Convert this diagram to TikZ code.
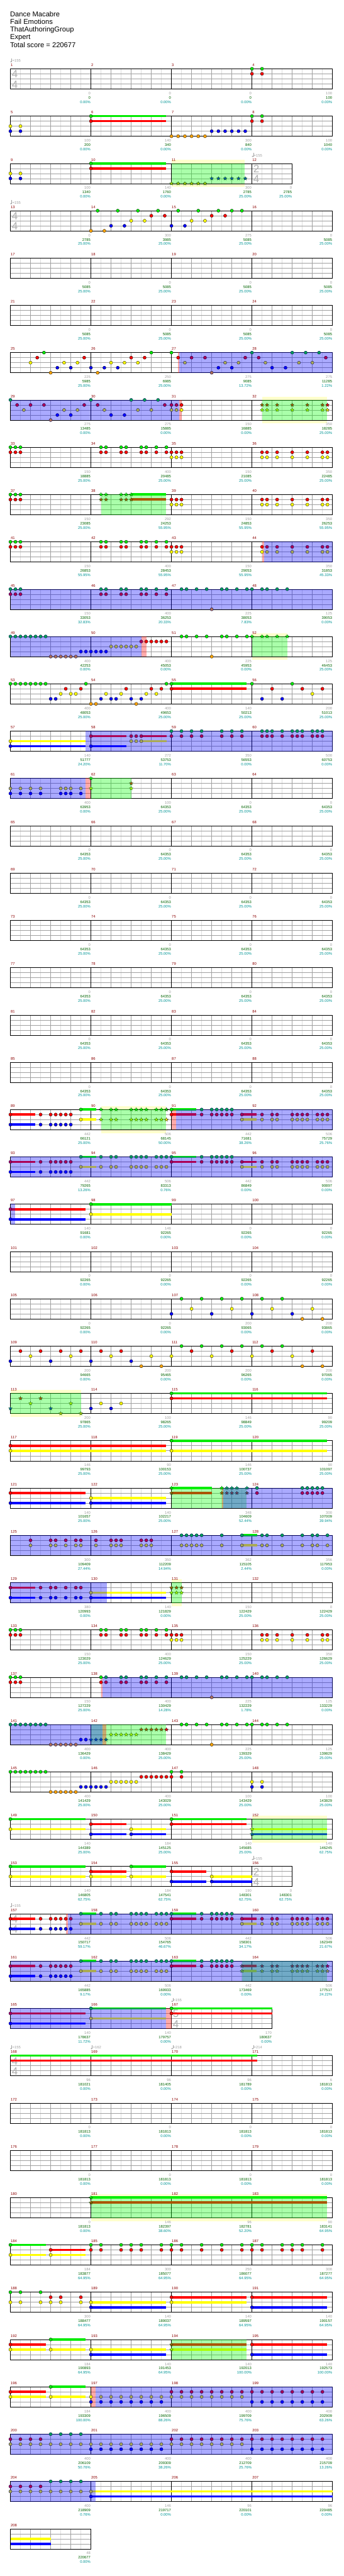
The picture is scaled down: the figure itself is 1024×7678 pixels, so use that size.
\documentclass[tikz,border=0pt]{standalone}
\usepackage{fontspec}
\setmainfont{Liberation Sans}
\usetikzlibrary{shapes.geometric}
\definecolor{cg}{RGB}{0,235,0}
\definecolor{cr}{RGB}{255,0,0}
\definecolor{cy}{RGB}{255,255,0}
\definecolor{cb}{RGB}{0,0,255}
\definecolor{co}{RGB}{255,165,0}
\definecolor{ovg}{RGB}{0,255,0}
\definecolor{ovb}{RGB}{0,0,255}
\definecolor{ovp}{RGB}{255,0,0}
\definecolor{ybnd}{RGB}{255,255,204}
\definecolor{l8}{RGB}{222,222,222}
\definecolor{lb}{RGB}{160,160,160}
\definecolor{cnum}{RGB}{140,0,0}
\definecolor{cgray}{RGB}{160,160,160}
\definecolor{cgrn}{RGB}{0,100,0}
\definecolor{cteal}{RGB}{0,150,150}
\definecolor{tsc}{RGB}{175,175,175}
\newcount\passn
\newif\ifinr
\tikzset{
 mnum/.style={anchor=base west,inner sep=0pt,text=cnum,font=\fontsize{11}{13}\selectfont},
 tgr/.style={anchor=base east,inner sep=0pt,text=cgray,font=\fontsize{11}{13}\selectfont},
 tgn/.style={anchor=base east,inner sep=0pt,text=cgrn,font=\fontsize{11}{13}\selectfont},
 ttl/.style={anchor=base east,inner sep=0pt,text=cteal,font=\fontsize{11}{13}\selectfont},
 tmp/.style={anchor=base west,inner sep=0pt,text=cgray,font=\fontsize{11}{13}\selectfont},
 tsg/.style={anchor=base west,inner sep=0pt,text=tsc,font=\fontsize{32}{34}\selectfont},
 head/.style={anchor=base west,inner sep=0pt,text=black,font=\fontsize{21}{25}\selectfont},
 stn/.style={star,star points=5,star point ratio=2.3,minimum size=11.5pt,inner sep=0pt,line width=.5pt},
 ln8/.style={draw=l8,line width=1pt},
 lnb/.style={draw=lb,line width=1pt},
 mline/.style={draw=black,line width=1pt}
}
\newcommand\chk[3]{\inrfalse\ifdim #1pt>\dimexpr #2pt-0.02pt\relax\ifdim #1pt<\dimexpr #3pt+0.02pt\relax\inrtrue\fi\fi}
\newcommand\mixc[2]{% row, beat : sets colours nc (fill) and nd (outline)
 \ifcsname gA#1\endcsname\chk{#2}{\csname gA#1\endcsname}{\csname gZ#1\endcsname}%
  \ifinr\colorlet{nc}{nc!66.7!ovg}\colorlet{nd}{nd!66.7!ovg}\fi\fi
 \ifcsname bA#1\endcsname\chk{#2}{\csname bA#1\endcsname}{\csname bZ#1\endcsname}%
  \ifinr\colorlet{nc}{nc!66.7!ovb}\colorlet{nd}{nd!66.7!ovb}\fi\fi}
\newcommand\gridrow[2]{\ifnum\passn=2\relax
 \pgfmathsetmacro\T{205+141*#1}\pgfmathsetmacro\Xe{31+60*#2}%
 \pgfmathtruncatemacro\nh{2*#2-1}\pgfmathtruncatemacro\nb{#2-1}%
 \fill[white] (31,\T) rectangle (\Xe,\T+60);
 \foreach \i in {1,3,...,\nh} \draw[ln8] ({31+30*\i},\T) -- ++(0,60);
 \foreach \k in {15,30,45} \draw[lnb] (31,\T+\k) -- (\Xe,\T+\k);
 \foreach \i in {1,...,\nb} \draw[lnb] ({31+60*\i},\T) -- ++(0,60);
 \fi}
\newcommand\gborder[2]{\ifnum\passn=2\relax\pgfmathsetmacro\T{205+141*#1}%
 \draw[black,line width=1pt] (31,\T) rectangle ({31+60*#2},\T+60);\fi}
\newcommand\meas[7]{\pgfmathsetmacro\T{205+141*#1}%
 \ifnum\passn=2\relax\ifdim #2pt>0pt \draw[mline] ({31+60*#2},\T) -- ++(0,60);\fi\fi
 \ifnum\passn=4\relax
 \node[mnum] at ({31+60*#2+1},\T-7) {#4};
 \node[tgr] at ({31+60*#3-1},\T+77) {#5};
 \node[tgn] at ({31+60*#3-1},\T+90) {#6};
 \node[ttl] at ({31+60*#3-1},\T+103) {#7\%};\fi}
\newcommand\rwa[4]{\ifnum\passn=2\relax\gridrow{#1}{#2}\fi
 \ifnum\passn=2\relax\rwaloop{#1}{#3}{#4}\gborder{#1}{#2}\fi
 \ifnum\passn=4\relax\rwaloop{#1}{#3}{#4}\fi}
\newcommand\rwaloop[3]{\foreach \vg/\vc/\vp [count=\i from 0] in {#3}{\pgfmathtruncatemacro\ms{4*\i}\pgfmathtruncatemacro\me{4*\i+4}\pgfmathtruncatemacro\mn{#2+\i}\meas{#1}{\ms}{\me}{\mn}{\vg}{\vc}{\vp}}}
\newcommand\rw[4]{\ifnum\passn=2\relax\gridrow{#1}{#2}\fi
 \ifnum\passn=2\relax\rwloop{#1}{#3}{#4}\gborder{#1}{#2}\fi
 \ifnum\passn=4\relax\rwloop{#1}{#3}{#4}\fi}
\newcommand\rwloop[3]{\foreach \vs/\ve/\vg/\vc/\vp [count=\i from 0] in {#3}{\pgfmathtruncatemacro\mn{#2+\i}\meas{#1}{\vs}{\ve}{\mn}{\vg}{\vc}{\vp}}}
\newcommand\nte[4]{\ifnum\passn=8\relax\pgfmathsetmacro\yy{205+141*#1+15*#2}\edef\lst{#4}%
 \foreach \b in \lst {\colorlet{nc}{#3}\colorlet{nd}{black}\mixc{#1}{\b}%
  \fill[fill=nc,draw=nd,line width=.6pt] ({31+60*\b},\yy) circle[radius=4.8pt];}\fi}
\newcommand\stz[4]{\ifnum\passn=8\relax\pgfmathsetmacro\yy{205+141*#1+15*#2}\edef\lst{#4}%
 \foreach \b in \lst {\colorlet{nc}{#3}\colorlet{nd}{black}\mixc{#1}{\b}%
  \node[stn,fill=nc,draw=nd] at ({31+60*\b},\yy) {};}\fi}
\newcommand\susb[5]{\ifnum\passn=3\relax\pgfmathsetmacro\yy{205+141*#1+15*#2}%
 \fill[#3] ({31+60*#4},\yy-3.5) rectangle ({31+60*#5},\yy+3.5);\fi}
\newcommand\ovl[4]{\pgfmathsetmacro\T{205+141*#1}%
 \fill[#2,opacity=0.333] ({31+60*#3},\T-0.5) rectangle ({31+60*#4},\T+60.5);}
\newcommand\ovG[3]{\ifnum\passn=0\relax\expandafter\xdef\csname gA#1\endcsname{#2}\expandafter\xdef\csname gZ#1\endcsname{#3}\fi
 \ifnum\passn=5\relax\ovl{#1}{ovg}{#2}{#3}\fi}
\newcommand\ovB[3]{\ifnum\passn=0\relax\expandafter\xdef\csname bA#1\endcsname{#2}\expandafter\xdef\csname bZ#1\endcsname{#3}\fi
 \ifnum\passn=6\relax\ovl{#1}{ovb}{#2}{#3}\fi}
\newcommand\ovP[3]{\ifnum\passn=7\relax\ovl{#1}{ovp}{#2}{#3}\fi}
\newcommand\ybd[3]{\ifnum\passn=1\relax\pgfmathsetmacro\T{205+141*#1}%
 \fill[ybnd] ({31+60*#2},\T-10) rectangle ({31+60*#3},\T+70);\fi}
\newcommand\qG[2]{\nte{#1}{0}{cg}{#2}}
\newcommand\qR[2]{\nte{#1}{1}{cr}{#2}}
\newcommand\qY[2]{\nte{#1}{2}{cy}{#2}}
\newcommand\qB[2]{\nte{#1}{3}{cb}{#2}}
\newcommand\qO[2]{\nte{#1}{4}{co}{#2}}
\newcommand\zG[2]{\stz{#1}{0}{cg}{#2}}
\newcommand\zR[2]{\stz{#1}{1}{cr}{#2}}
\newcommand\zY[2]{\stz{#1}{2}{cy}{#2}}
\newcommand\zB[2]{\stz{#1}{3}{cb}{#2}}
\newcommand\zO[2]{\stz{#1}{4}{co}{#2}}
\newcommand\uG[3]{\susb{#1}{0}{cg}{#2}{#3}}
\newcommand\uR[3]{\susb{#1}{1}{cr}{#2}{#3}}
\newcommand\uY[3]{\susb{#1}{2}{cy}{#2}{#3}}
\newcommand\uB[3]{\susb{#1}{3}{cb}{#2}{#3}}
\newcommand\tempo[3]{\ifnum\passn=4\relax\pgfmathsetmacro\T{205+141*#1}\pgfmathsetmacro\X{31+60*#2}%
 \fill[cgray] (\X+2,\T-21) ellipse[x radius=2.4pt,y radius=1.9pt];
 \draw[cgray,line width=.8pt] (\X+4,\T-21) -- (\X+4,\T-31);
 \node[tmp] at (\X+5.5,\T-20) {=#3};\fi}
\newcommand\tsig[4]{\ifnum\passn=2\relax\pgfmathsetmacro\T{205+141*#1}\pgfmathsetmacro\X{31+60*#2}%
 \node[tsg] at (\X+4,\T+27) {#3};\node[tsg] at (\X+4,\T+58) {#4};\fi}
\def\pA{0,0.25,0.5,4.5,4.75,5.5,5.75,6.5,6.75,7.25,7.75}
\def\pB{8,8.25,8.5,12.5,12.75,13.25,14,14.75,15.5,15.75}
\def\pC{8.5,8.75,9.25,9.75,10.5,10.75,11.25,11.75,12,12.5,12.75,13.25,13.75}
\def\pE{0,0.25,0.5,0.75,1,1.25,1.5,1.75}
\def\pRB{0,1.5,2,2.25,2.5,2.75,3}
\def\pGY{3.5,4.5,5,5.25,6,6.25,6.5,6.75,7.25,7.5,7.75}
\def\pGYs{4.5,5,5.25,6,6.25,6.5,6.75,7.25,7.5,7.75}
\def\pGR{8,9.5,10,10.25,10.5,10.75,11}
\def\pRY{11.5,12.5,13,13.25,14,14.25,14.5,14.75,15.25,15.5,15.75}
\def\pH{4,4.5,5,5.5,6,6.5,7,7.5}
\def\pI{8,8.5,9,9.5,10,10.5,11,11.5}
\def\pJ{12,12.5,13,13.5,14,14.5,15,15.5}
\newcommand\blockRB[1]{\uR{#1}{0}{1.24}\uB{#1}{0}{1.24}\qR{#1}{\pRB}\qB{#1}{\pRB}%
 \uG{#1}{3.5}{4.25}\uY{#1}{3.5}{4.25}}
\newcommand\blockGR[1]{\uG{#1}{8}{9.24}\uR{#1}{8}{9.24}\qG{#1}{\pGR}\qR{#1}{\pGR}\uR{#1}{11.5}{12.24}\uY{#1}{11.5}{12.24}}
\newcommand\DATA{%
% row 0
\rwa{0}{16}{1}{0/0/0.00, 0/0/0.00, 0/0/0.00, 100/100/0.00}
\tempo{0}{0}{155}\tsig{0}{0}{4}{4}
\qG{0}{12,12.5}\qR{0}{12,12.5}
% row 1
\rwa{1}{16}{5}{100/200/0.00, 140/340/0.00, 300/840/0.00, 100/1040/0.00}
\qY{1}{0,0.5}\qB{1}{0,0.5}
\uG{1}{4}{7.73}\uR{1}{4}{7.73}\qG{1}{4}\qR{1}{4}
\qO{1}{8,8.333,8.667,9,9.333,9.667}\qB{1}{10,10.333,10.667,11,11.333,11.667}
\qG{1}{12,12.5}\qR{1}{12,12.5}
% row 2
\rw{2}{14}{9}{0/4/100/1340/0.00, 4/8/140/1760/0.00, 8/12/300/2785/25.00, 12/14/0/2785/25.00}
\tempo{2}{12}{155}\tsig{2}{12}{2}{4}
\qY{2}{0,0.5}\qB{2}{0,0.5}
\uG{2}{4}{7.73}\uR{2}{4}{7.73}\qG{2}{4}\qR{2}{4}
\ybd{2}{8}{11.65}\ovG{2}{8}{11.65}
\zO{2}{8,8.333,8.667,9,9.333,9.667}\zB{2}{10,10.333,10.667,11,11.333,11.667}
% row 3
\rwa{3}{16}{13}{0/2785/25.00, 300/3985/25.00, 275/5085/25.00, 0/5085/25.00}
\tempo{3}{0}{155}\tsig{3}{0}{4}{4}
\qG{3}{4.333,5.333,6.333,7.333,8.333,9.333,10.333,11,11.5}
\qR{3}{7,7.667,10,10.667}
\qY{3}{6,6.667,9,9.667}
\qB{3}{5,5.667,8,8.667}
\qO{3}{4,4.667}
% rows 4-5
\rwa{4}{16}{17}{0/5085/25.00, 0/5085/25.00, 0/5085/25.00, 0/5085/25.00}
\rwa{5}{16}{21}{0/5085/25.00, 0/5085/25.00, 0/5085/25.00, 0/5085/25.00}
% row 6
\rwa{6}{16}{25}{225/5985/25.00, 250/6985/25.00, 275/9085/13.72, 275/11285/1.22}
\qG{6}{1.667,7,8,12,14,14.667,15.333}
\qR{6}{1.333,3.667,6,6.667,8.333,9,9.667,11.667,12.333,15.667}
\qY{6}{1,2.667,3.333,5,5.667,6.333,8.667,10.667,11.333,12.667,14.333,15}
\qB{6}{2.333,3,4,4.667,5.333,10.333,11,13,13.667}
\qO{6}{2,4.333,10}
\ovP{6}{8.31}{8.4}\ovB{6}{8.4}{16}
% row 7
\rwa{7}{16}{29}{275/13485/0.00, 275/15885/0.00, 150/16885/0.00, 350/18285/25.00}
\ovB{7}{0}{8.38}\ovP{7}{8.38}{8.5}
\qG{7}{0,4,6,6.667,7.333}
\qR{7}{0.333,1,1.667,3.667,4.333,7.667,8,8.25,8.5}
\qY{7}{0.667,2.667,3.333,4.667,6.333,7,8,8.25,8.5}
\qB{7}{2.333,3,5,5.667}
\qO{7}{2}
\ybd{7}{12.5}{15.73}\ovG{7}{12.5}{15.73}
\zR{7}{12.5,12.75,13.25,14,14.75,15.5,15.75}\zY{7}{12.5,12.75,13.25,14,14.75,15.5,15.75}
% row 8
\rwa{8}{16}{33}{150/18885/25.00, 400/20485/25.00, 150/21085/25.00, 350/22485/25.00}
\qG{8}{\pA}\qR{8}{\pA}\qR{8}{\pB}\qY{8}{\pB}
% row 9
\rwa{9}{16}{37}{150/23085/25.00, 292/24253/55.95, 150/24853/55.95, 350/26253/55.95}
\qG{9}{0,0.25,0.5}\qR{9}{0,0.25,0.5}
\ovG{9}{4.5}{7.73}
\uG{9}{6}{7.73}\uR{9}{6}{7.73}
\zG{9}{4.5,4.75,5.5,5.75,6}\zR{9}{4.5,4.75,5.5,5.75,6}
\qR{9}{\pB}\qY{9}{\pB}
% row 10
\rwa{10}{16}{41}{150/26853/55.95, 400/28453/55.95, 150/29053/55.95, 350/31853/45.33}
\qG{10}{\pA}\qR{10}{\pA}\qR{10}{\pB}\qY{10}{\pB}
\ovP{10}{12.5}{12.6}\ovB{10}{12.6}{16}
% row 11
\rwa{11}{16}{45}{150/33053/32.83, 400/36253/20.33, 225/38053/7.83, 125/39053/0.00}
\ovB{11}{0}{16}
\qG{11}{\pA}\qG{11}{\pC}\qR{11}{\pA}\qO{11}{10}
% row 12
\rwa{12}{16}{49}{400/42253/0.00, 400/45053/0.00, 225/45953/0.00, 125/46453/25.00}
\ovB{12}{0}{6.5}\ovP{12}{6.5}{6.75}
\qG{12}{\pE}\qG{12}{8.5,8.75,9.25,9.75,10.5,10.75,11.25,11.75}
\ybd{12}{12}{13.75}\ovG{12}{12}{13.75}
\zG{12}{12,12.5,12.75,13.25,13.75}
\qO{12}{2,2.25,2.5,2.75,3,3.25,10}
\qB{12}{3.5,3.75,4,4.25,4.5,4.75}
\qY{12}{5,5.25,5.5,5.75,6,6.25}
\qR{12}{6.5,6.75,7,7.25,7.5,7.75}
% row 13
\rwa{13}{16}{53}{400/48053/25.00, 400/49653/25.00, 140/50213/25.00, 200/51013/25.00}
\uG{13}{8}{11.74}\uR{13}{8}{11.74}
\qG{13}{\pE}\qG{13}{3.75,7.75,8,12,14}
\qR{13}{2.75,3.5,5.75,7,7.5,8,13,14.5,15.5}
\qY{13}{2.5,3,3.25,4.75,5.5,6.75,7.25,15}
\qB{13}{2,2.25,4.5,5,5.25,6,6.5,12.5,13.5}
\qO{13}{4,4.25,6.25}
% row 14
\rwa{14}{16}{57}{140/51777/24.20, 272/53753/11.70, 350/56553/0.00, 500/60753/0.00}
\uY{14}{0}{3.72}\uB{14}{0}{3.72}\qY{14}{0}\qB{14}{0}
\ovB{14}{3.72}{16}
\uR{14}{4}{5.75}\uB{14}{4}{5.75}\qR{14}{4}\qB{14}{4}
\uR{14}{6.5}{7.75}\uY{14}{6.5}{7.75}\qR{14}{6,6.25,6.5}\qY{14}{6,6.25,6.5}
\qG{14}{8,8.5,9,9.5,10.5,11,11.5,12.5,12.75,13,13.5,14,14.25,14.5,15,15.25,15.5}
\qR{14}{8,8.5,9,9.5,10.5,11,11.5,12.5,12.75,13,13.5,14,14.25,14.5,15,15.25,15.5}
% row 15
\rwa{15}{16}{61}{400/63953/0.00, 100/64353/25.00, 0/64353/25.00, 0/64353/25.00}
\ovB{15}{0}{3.72}\ovP{15}{3.72}{3.97}\ovG{15}{4}{6}
\qY{15}{0,0.5,1,1.5,2.5,2.75,3,3.5}\qB{15}{0,0.5,1,1.5,2.5,2.75,3,3.5}
\zG{15}{4}\zY{15}{4}\zR{15}{6}\zY{15}{6}
% rows 16-21
\rwa{16}{16}{65}{0/64353/25.00, 0/64353/25.00, 0/64353/25.00, 0/64353/25.00}
\rwa{17}{16}{69}{0/64353/25.00, 0/64353/25.00, 0/64353/25.00, 0/64353/25.00}
\rwa{18}{16}{73}{0/64353/25.00, 0/64353/25.00, 0/64353/25.00, 0/64353/25.00}
\rwa{19}{16}{77}{0/64353/25.00, 0/64353/25.00, 0/64353/25.00, 0/64353/25.00}
\rwa{20}{16}{81}{0/64353/25.00, 0/64353/25.00, 0/64353/25.00, 0/64353/25.00}
\rwa{21}{16}{85}{0/64353/25.00, 0/64353/25.00, 0/64353/25.00, 0/64353/25.00}
% row 22
\rwa{22}{16}{89}{442/66121/25.00, 506/68145/50.00, 442/71681/38.26, 506/75729/25.76}
\blockRB{22}\qG{22}{3.5}\qY{22}{3.5}
\ybd{22}{4.5}{7.73}\ovG{22}{4.5}{7.73}
\zG{22}{\pGYs}\zY{22}{\pGYs}
\ovP{22}{8}{8.22}\ovB{22}{8.22}{16}
\blockGR{22}\qR{22}{\pRY}\qY{22}{\pRY}
% row 23
\rwa{23}{16}{93}{442/79265/13.26, 506/83313/0.76, 442/86849/0.00, 506/90897/0.00}
\ovB{23}{0}{16}
\blockRB{23}\qG{23}{\pGY}\qY{23}{\pGY}\blockGR{23}\qR{23}{\pRY}\qY{23}{\pRY}
% row 24
\rwa{24}{16}{97}{140/91681/0.00, 146/92265/0.00, 0/92265/0.00, 0/92265/0.00}
\ovB{24}{0}{0.22}
\uR{24}{0}{3.74}\uB{24}{0}{3.72}\qR{24}{0}\qB{24}{0}
\uG{24}{4}{8}\uY{24}{4}{8}\qG{24}{4}\qY{24}{4}
% row 25
\rwa{25}{16}{101}{0/92265/0.00, 0/92265/0.00, 0/92265/0.00, 0/92265/0.00}
% row 26
\rwa{26}{16}{105}{0/92265/0.00, 0/92265/0.00, 200/93065/0.00, 200/93865/0.00}
\qG{26}{8.5,9.5,10.5,11.5,12.5,13.5}\qY{26}{9,11,13,15}\qB{26}{8,10,12,14}\qO{26}{14.5,15.5}
% row 27
\rwa{27}{16}{109}{200/94665/0.00, 200/95465/0.00, 200/96265/0.00, 200/97065/0.00}
\qR{27}{0.5,1.5,2.5,3.5,4.5,5.5,9,11,13,15}
\qY{27}{1,3,5,7,8,10,12,14}
\qB{27}{0,2,4,6}
\qO{27}{6.5,7.5,14.5,15.5}
\qG{27}{8.5,9.5,10.5,11.5,12.5,13.5}
% row 28
\rwa{28}{16}{113}{200/97865/25.00, 100/98265/25.00, 146/98849/25.00, 90/99209/25.00}
\ybd{28}{0}{3.5}\ovG{28}{0}{3.5}
\zB{28}{0,2}\zR{28}{0.5,1.5}\zY{28}{1,3}\zO{28}{2.5,3.5}
\qB{28}{4,5}\qY{28}{4.5,5.5}
\uG{28}{8}{15.73}\uR{28}{8}{15.73}\qG{28}{8}\qR{28}{8}
% row 29
\rwa{29}{16}{117}{146/99793/25.00, 90/100153/25.00, 146/100737/25.00, 90/101097/25.00}
\uR{29}{0}{7.73}\uY{29}{0}{7.73}\qR{29}{0}\qY{29}{0}
\uG{29}{8}{15.73}\uY{29}{8}{15.73}\qG{29}{8}\qY{29}{8}
% row 30
\rwa{30}{16}{121}{140/101657/25.00, 140/102217/25.00, 348/104609/52.44, 300/107009/39.94}
\uR{30}{0}{3.74}\uB{30}{0}{3.74}\qR{30}{0}\qB{30}{0}
\uY{30}{4}{7.73}\uB{30}{4}{7.73}\qY{30}{4}\qB{30}{4}
\ovG{30}{8}{11.74}
\uG{30}{8}{10}\uR{30}{8}{10}
\zG{30}{8,10.5,10.75,11,11.25,11.75}\zR{30}{8,10.5,10.75,11,11.25,11.75}
\ovP{30}{10.5}{10.58}\ovB{30}{10.58}{16}
\qG{30}{12.25,14.5,14.75,15,15.25,15.5}\qR{30}{12.25,14.5,14.75,15,15.25,15.5}
% row 31
\rwa{31}{16}{125}{300/109409/27.44, 350/112209/14.94, 362/115105/2.44, 356/117953/0.00}
\ovB{31}{0}{16}
\qR{31}{1,2,2.25,2.75,3.25,3.5,4.25,5,5.25,5.5,6.5,6.75,7}\qY{31}{1,2,2.25,2.75,3.25,3.5,4.25,5,5.25,5.5,6.5,6.75,7}
\uG{31}{11.5}{12.25}\uY{31}{11.5}{12.25}
\qG{31}{8.5,8.75,9,9.25,9.5,10.5,11.5,12.5,12.75,13.5,14.5,15,15.25,15.75}
\qY{31}{8.5,8.75,9,9.25,9.5,10.5,11.5,12.5,12.75,13.5,14.5,15,15.25,15.75}
% row 32
\rwa{32}{16}{129}{380/120993/0.00, 140/121829/0.00, 150/122429/25.00, 0/122429/25.00}
\ovB{32}{0}{4.78}
\uR{32}{0}{1.24}\uB{32}{0}{1.24}
\qR{32}{0,1.5,2,2.25,2.75,3.25,3.5}\qB{32}{0,1.5,2,2.25,2.75,3.25,3.5}
\uY{32}{4}{7.73}\uB{32}{4}{7.73}\qY{32}{4}\qB{32}{4}
\ybd{32}{8}{8.5}\ovG{32}{8}{8.5}
\zR{32}{8,8.25,8.5}\zY{32}{8,8.25,8.5}
% row 33
\rwa{33}{16}{133}{150/123029/25.00, 400/124629/25.00, 150/125229/25.00, 350/126629/25.00}
\qG{33}{\pA}\qR{33}{\pA}\qR{33}{\pB}\qY{33}{\pB}
% row 34
\rwa{34}{16}{137}{150/127229/25.00, 400/130429/14.28, 225/132229/1.78, 125/133229/0.00}
\qG{34}{\pA}\qG{34}{\pC}\qR{34}{\pA}\qO{34}{10}
\ovP{34}{4.5}{4.57}\ovB{34}{4.57}{16}
% row 35
\rwa{35}{16}{141}{400/136429/0.00, 400/138429/25.00, 225/139329/25.00, 125/139829/25.00}
\ovB{35}{0}{4.57}\ovP{35}{4.57}{4.75}\ovG{35}{4}{7.73}
\qG{35}{\pE}\qO{35}{2,2.25,2.5,2.75,3,3.25}
\qB{35}{3.5,3.75}\zB{35}{4,4.25,4.5,4.75}
\zY{35}{5,5.25,5.5,5.75,6,6.25}
\zR{35}{6.5,6.75,7,7.25,7.5,7.75}
\qG{35}{\pC}\qO{35}{10}
% row 36
\rwa{36}{16}{145}{400/141429/25.00, 400/143029/25.00, 100/143429/25.00, 100/143829/25.00}
\qG{36}{\pE}\qG{36}{8,8.5}
\qO{36}{2,2.25,2.5,2.75,3,3.25}
\qB{36}{3.5,3.75,4,4.25,4.5,4.75,12,12.5}
\qY{36}{5,5.25,5.5,5.75,6,6.25,12,12.5}
\qR{36}{6.5,6.75,7,7.25,7.5,7.75,8,8.5}
% row 37
\rwa{37}{16}{149}{140/144389/25.00, 184/145125/25.00, 140/145685/25.00, 140/146245/62.75}
\uG{37}{0}{3.74}\uY{37}{0}{3.74}\qG{37}{0}\qY{37}{0}
\uR{37}{4}{5.75}\uB{37}{4}{5.75}\qR{37}{4}\qB{37}{4}
\uY{37}{6}{7.73}\uB{37}{6}{7.73}\qY{37}{6}\qB{37}{6}
\uG{37}{8}{11.74}\uR{37}{8}{11.74}\qG{37}{8}\qR{37}{8}
\ybd{37}{12}{15.73}\ovG{37}{12}{15.73}
\uY{37}{12}{15.73}\uB{37}{12}{15.73}\zY{37}{12}\zB{37}{12}
% row 38
\rw{38}{14}{153}{0/4/140/146805/62.75, 4/8/184/147541/62.75, 8/12/190/148301/62.75, 12/14/0/148301/62.75}
\tempo{38}{12}{155}\tsig{38}{12}{2}{4}
\uG{38}{0}{3.74}\uY{38}{0}{3.74}\qG{38}{0}\qY{38}{0}
\uR{38}{4}{5.75}\uY{38}{4}{5.75}\qR{38}{4}\qY{38}{4}
\uG{38}{6}{7.73}\uY{38}{6}{7.73}\qG{38}{6}\qY{38}{6}
\uR{38}{8}{9.73}\uB{38}{8}{9.73}\qR{38}{8}\qB{38}{8}
\uY{38}{10}{12}\uB{38}{10}{12}\qY{38}{10}\qB{38}{10}
% row 39
\rwa{39}{16}{157}{442/150717/59.17, 506/154765/46.67, 442/158301/34.17, 506/162349/21.67}
\tempo{39}{0}{155}\tsig{39}{0}{4}{4}
\ovP{39}{2.75}{2.87}\ovB{39}{2.87}{16}
\blockRB{39}\qG{39}{\pGY}\qY{39}{\pGY}\blockGR{39}\qR{39}{\pRY}\qY{39}{\pRY}
% row 40
\rwa{40}{16}{161}{442/165885/9.17, 506/169933/0.00, 442/173469/0.00, 506/177517/24.22}
\ovB{40}{0}{16}\ovG{40}{11.5}{15.73}
\blockRB{40}\qG{40}{\pGY}\qY{40}{\pGY}\blockGR{40}\zR{40}{\pRY}\zY{40}{\pRY}
% row 41
\rw{41}{13}{165}{0/4/140/178637/11.72, 4/8/140/179757/0.00, 8/13/170/180637/0.00}
\tempo{41}{8}{155}\tsig{41}{8}{5}{4}
\ovB{41}{0}{7.73}\ovP{41}{7.73}{8}
\uR{41}{0}{3.74}\uB{41}{0}{3.72}\qR{41}{0}\qB{41}{0}
\uG{41}{4}{7.73}\uY{41}{4}{7.73}\qG{41}{4}\qY{41}{4}
\uG{41}{8}{13}\uR{41}{8}{13}\qG{41}{8}\qR{41}{8}
% row 42
\rwa{42}{16}{168}{96/181021/0.00, 96/181405/0.00, 96/181789/0.00, 6/181813/0.00}
\tempo{42}{0}{155}\tempo{42}{4}{162}\tempo{42}{8}{218}\tempo{42}{12}{214}\tsig{42}{0}{4}{4}
\uG{42}{0}{12.25}\uR{42}{0}{12.25}
% rows 43-44
\rwa{43}{16}{172}{0/181813/0.00, 0/181813/0.00, 0/181813/0.00, 0/181813/0.00}
\rwa{44}{16}{176}{0/181813/0.00, 0/181813/0.00, 0/181813/0.00, 0/181813/0.00}
% row 45
\rwa{45}{16}{180}{0/181813/0.00, 146/182397/38.60, 96/182781/52.20, 90/183141/64.95}
\ybd{45}{4}{15.73}\ovG{45}{4}{15.73}
\uG{45}{4}{15.73}\uR{45}{4}{15.73}\zG{45}{4}\zR{45}{4}
% row 46
\rwa{46}{16}{184}{184/183877/64.95, 300/185077/64.95, 250/186077/64.95, 300/187277/64.95}
\uG{46}{0}{1.75}\uY{46}{0}{1.75}\qG{46}{0}\qY{46}{0}
\uR{46}{2}{3.74}\uY{46}{2}{3.74}\qR{46}{2}\qY{46}{2}
\qG{46}{4,4.5,5.5,6,6.5,7.5,8,8.5,9.5,10.5,11.5,12,12.5,13.5,14,14.5,15.5}
\qR{46}{4,4.5,5.5,6,6.5,7.5,8,8.5,9.5,10.5,11.5,12,12.5,13.5,14,14.5,15.5}
% row 47
\rwa{47}{16}{188}{300/188477/64.95, 140/189037/64.95, 140/189597/64.95, 140/190157/64.95}
\qG{47}{0,0.5,1.5}\qR{47}{2,2.5,3.5}\qY{47}{0,0.5,1.5,2,2.5,3.5}
\uY{47}{4}{7.73}\uB{47}{4}{7.73}\qY{47}{4}\qB{47}{4}
\uR{47}{8}{11.74}\uY{47}{8}{11.74}\qR{47}{8}\qY{47}{8}
\uR{47}{12}{15.73}\uB{47}{12}{15.73}\qR{47}{12}\qB{47}{12}
% row 48
\rwa{48}{16}{192}{184/190893/64.95, 140/191453/64.95, 140/192013/100.00, 140/192573/100.00}
\uR{48}{0}{1.75}\uY{48}{0}{1.75}\qR{48}{0}\qY{48}{0}
\uG{48}{2}{3.74}\uY{48}{2}{3.74}\qG{48}{2}\qY{48}{2}
\uY{48}{4}{7.73}\uB{48}{4}{7.73}\qY{48}{4}\qB{48}{4}
\ovG{48}{8}{11.74}
\uR{48}{8}{11.74}\uY{48}{8}{11.74}\zR{48}{8}\zY{48}{8}
\uR{48}{12}{15.73}\uB{48}{12}{15.73}\qR{48}{12}\qB{48}{12}
% row 49
\rwa{49}{16}{196}{184/193309/100.00, 400/196509/88.26, 400/199709/75.76, 400/202909/63.26}
\uR{49}{0}{1.75}\uY{49}{0}{1.75}\qR{49}{0}\qY{49}{0}
\uG{49}{2}{3.74}\uY{49}{2}{3.74}\qG{49}{2}\qY{49}{2}
\ovP{49}{4}{4.22}\ovB{49}{4.22}{16}
\qY{49}{\pH}\qY{49}{\pI}\qB{49}{\pH}\qB{49}{\pJ}\qR{49}{\pI}\qR{49}{\pJ}
% row 50
\rwa{50}{16}{200}{400/206109/50.76, 400/209309/38.26, 400/212709/25.76, 400/215709/13.26}
\ovB{50}{0}{16}
\qR{50}{0,0.5,1,1.5}\qG{50}{2,2.5,3,3.5}\qY{50}{0,0.5,1,1.5,2,2.5,3,3.5}
\qY{50}{\pH}\qY{50}{\pI}\qB{50}{\pH}\qB{50}{\pJ}\qR{50}{\pI}\qR{50}{\pJ}
% row 51
\rwa{51}{16}{204}{400/218909/0.76, 146/219717/0.00, 96/220101/0.00, 96/220485/0.00}
\ovB{51}{0}{4.22}
\qR{51}{0,0.5,1,1.5}\qG{51}{2,2.5,3,3.5}\qY{51}{0,0.5,1,1.5,2,2.5,3,3.5}
\uY{51}{4}{16}\uB{51}{4}{16}\qY{51}{4}\qB{51}{4}
% row 52
\rwa{52}{4}{208}{48/220677/0.00}
\uY{52}{0}{2}\uB{52}{0}{2}
}
\begin{document}
\begin{tikzpicture}[x=1pt,y=-1pt]
\useasboundingbox (0,0) rectangle (1024,7678);
\fill[white] (0,0) rectangle (1024,7678);
\node[head] (t1) at (30,49) {Dance Macabre};
\node[head] (t2) at (30,72) {Fail Emotions};
\node[head] (t3) at (30,95) {ThatAuthoringGroup};
\node[head] (t4) at (30,118) {Expert};
\node[head] (t5) at (30,141) {Total score = 220677};
\global\passn=0 \DATA
\global\passn=1 \DATA
\global\passn=2 \DATA
\global\passn=3 \DATA
\global\passn=4 \DATA
\global\passn=5 \DATA
\global\passn=6 \DATA
\global\passn=7 \DATA
\global\passn=8 \DATA
\end{tikzpicture}
\end{document}
